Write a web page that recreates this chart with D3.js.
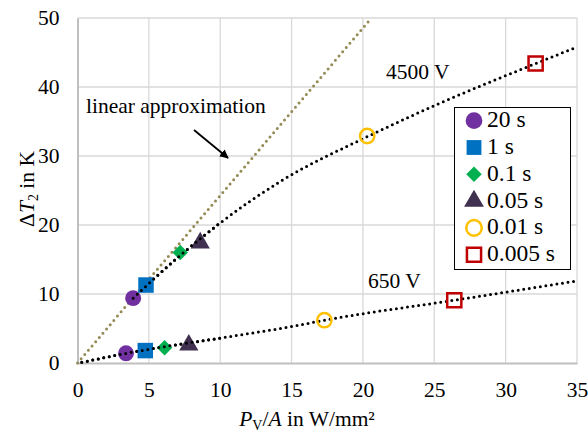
<!DOCTYPE html>
<html><head><meta charset="utf-8">
<script src="https://cdn.jsdelivr.net/npm/d3@7"></script>
<style>body{margin:0;background:#fff}svg{display:block}</style>
</head><body><svg id="c" width="588" height="440" font-family="Liberation Serif"></svg>
<script>
const durations = ["20 s","1 s","0.1 s","0.05 s","0.01 s","0.005 s"];
const x4500 = [3.9, 4.8, 7.2, 8.6, 20.3, 32.1];
const y4500 = [9.4, 11.3, 16.0, 17.4, 32.9, 43.4];
const x650 = [3.4, 4.75, 6.1, 7.8, 17.3, 26.4];
const y650 = [1.4, 1.8, 2.2, 2.6, 6.2, 9.1];
const trend4500 = [[3.9,9.4],[7.2,15.6],[10,20.3],[14.2,26.3],[20.4,32.9],[24.9,37.2],[32.1,43.4],[35,45.8]];
const trend650 = [[0.3,0.1],[3.4,1.4],[10,3.6],[15.3,5.4],[17.3,6.2],[26.4,9.1],[35,11.9]];
const linearApprox = [[0,0],[20.6,50]];
const xTicks = [0,5,10,15,20,25,30,35];
const yTicks = [0,10,20,30,40,50];

const FONT = "Liberation Serif";
const svg = d3.select("#c");
const x = d3.scaleLinear().domain([0,35]).range([77.5,577]);
const y = d3.scaleLinear().domain([0,50]).range([363,18]);

const diamond = {draw(ctx,size){const r=Math.sqrt(size)/2*Math.SQRT2; ctx.moveTo(0,-r);ctx.lineTo(r,0);ctx.lineTo(0,r);ctx.lineTo(-r,0);ctx.closePath();}};
const styles = [
  {sym:d3.symbolCircle, fill:"#7030a0", size:200},
  {sym:d3.symbolSquare, fill:"#0070c0", size:240},
  {sym:diamond, fill:"#00b050", size:120},
  {sym:d3.symbolTriangle, fill:"#403151", size:160},
  {sym:d3.symbolCircle, fill:"none", stroke:"#ffc000", size:160},
  {sym:d3.symbolSquare, fill:"none", stroke:"#c00000", size:200}
];

function txt(sel){ return sel.attr("font-family",FONT).style("font-family",FONT).attr("fill","#000"); }

// grid
svg.append("g").selectAll("line").data(xTicks.slice(1)).join("line")
  .attr("x1",d=>x(d)).attr("x2",d=>x(d)).attr("y1",y(0)).attr("y2",y(50))
  .attr("stroke","#d9d9d9").attr("stroke-width",1.3);
svg.append("g").selectAll("line").data(yTicks.slice(1)).join("line")
  .attr("x1",x(0)).attr("x2",x(35)).attr("y1",d=>y(d)).attr("y2",d=>y(d))
  .attr("stroke","#d9d9d9").attr("stroke-width",1.3);

// axes
const xa = svg.append("g").attr("transform",`translate(0,${y(0)})`)
  .call(d3.axisBottom(x).tickValues(xTicks).tickSize(0).tickPadding(19).tickFormat(d3.format("d")));
const ya = svg.append("g").attr("transform",`translate(${x(0)},0)`)
  .call(d3.axisLeft(y).tickValues(yTicks).tickSize(0).tickPadding(18).tickFormat(d3.format("d")));
[xa,ya].forEach(a=>{
  a.attr("font-family",FONT);
  a.select(".domain").attr("stroke","#bfbfbf").attr("stroke-width",2);
  txt(a.selectAll("text")).attr("font-size",21.5);
});

// lines
const line = d3.line().x(d=>x(d[0])).y(d=>y(d[1])).curve(d3.curveMonotoneX);
function dotted(data,color){
  svg.append("path").datum(data).attr("d",line).attr("fill","none")
    .attr("stroke",color).attr("stroke-width",3).attr("stroke-linecap","round")
    .attr("stroke-dasharray","0 5.6");
}
dotted(linearApprox,"#948a54");
dotted(trend650,"#000");
dotted(trend4500,"#000");

// markers
function drawMarkers(xs,ys){
  svg.append("g").selectAll("path").data(xs).join("path")
    .attr("transform",(d,i)=>`translate(${x(d)},${y(ys[i])})`)
    .attr("d",(d,i)=>d3.symbol(styles[i].sym,styles[i].size)())
    .attr("fill",(d,i)=>styles[i].fill)
    .attr("stroke",(d,i)=>styles[i].stroke||"none")
    .attr("stroke-width",2.5);
}
drawMarkers(x650,y650);
drawMarkers(x4500,y4500);
dotted(trend650.slice(0,3),"#000");
dotted(trend4500.slice(0,3),"#000");

// annotations
txt(svg.append("text")).attr("x",386).attr("y",79).attr("font-size",21.5).text("4500 V");
txt(svg.append("text")).attr("x",368).attr("y",288).attr("font-size",21.5).text("650 V");
txt(svg.append("text")).attr("x",86).attr("y",113).attr("font-size",21.5).text("linear approximation");
svg.append("defs").append("marker").attr("id","ah").attr("viewBox","0 0 10 10")
  .attr("refX",9).attr("refY",5).attr("markerWidth",5).attr("markerHeight",5).attr("orient","auto")
  .append("path").attr("d","M0,0L10,5L0,10z").attr("fill","#000");
svg.append("line").attr("x1",194).attr("y1",130).attr("x2",228).attr("y2",158)
  .attr("stroke","#000").attr("stroke-width",1.8).attr("marker-end","url(#ah)");

// legend
const lg = svg.append("g");
lg.append("rect").attr("x",454.5).attr("y",107.5).attr("width",116).attr("height",162)
  .attr("fill","#fff").attr("stroke","#000").attr("stroke-width",1);
const legSizes = [220,220,120,170,190,200];
durations.forEach((t,i)=>{
  const cy = 120.7 + i*26.8;
  const s = styles[i];
  lg.append("path").attr("transform",`translate(474,${cy})`)
    .attr("d",d3.symbol(s.sym, legSizes[i])())
    .attr("fill",s.fill).attr("stroke",s.stroke||"none").attr("stroke-width",2.5);
  txt(lg.append("text")).attr("x",487).attr("y",cy+6.5).attr("font-size",23.5).text(t);
});

// axis titles
const xt = txt(svg.append("text")).attr("x",307).attr("y",426).attr("text-anchor","middle").attr("font-size",21.5);
xt.append("tspan").attr("font-style","italic").text("P");
xt.append("tspan").attr("font-size",14).attr("dy",4).text("V");
xt.append("tspan").attr("dy",-4).text("/");
xt.append("tspan").attr("font-style","italic").text("A");
xt.append("tspan").text(" in W/mm²");

const yt = txt(svg.append("text")).attr("transform","translate(34,189) rotate(-90)").attr("text-anchor","middle").attr("font-size",21.5);
yt.append("tspan").text("Δ");
yt.append("tspan").attr("font-style","italic").text("T");
yt.append("tspan").attr("font-size",14).attr("dy",4).text("2");
yt.append("tspan").attr("dy",-4).text(" in K");
</script></body></html>
